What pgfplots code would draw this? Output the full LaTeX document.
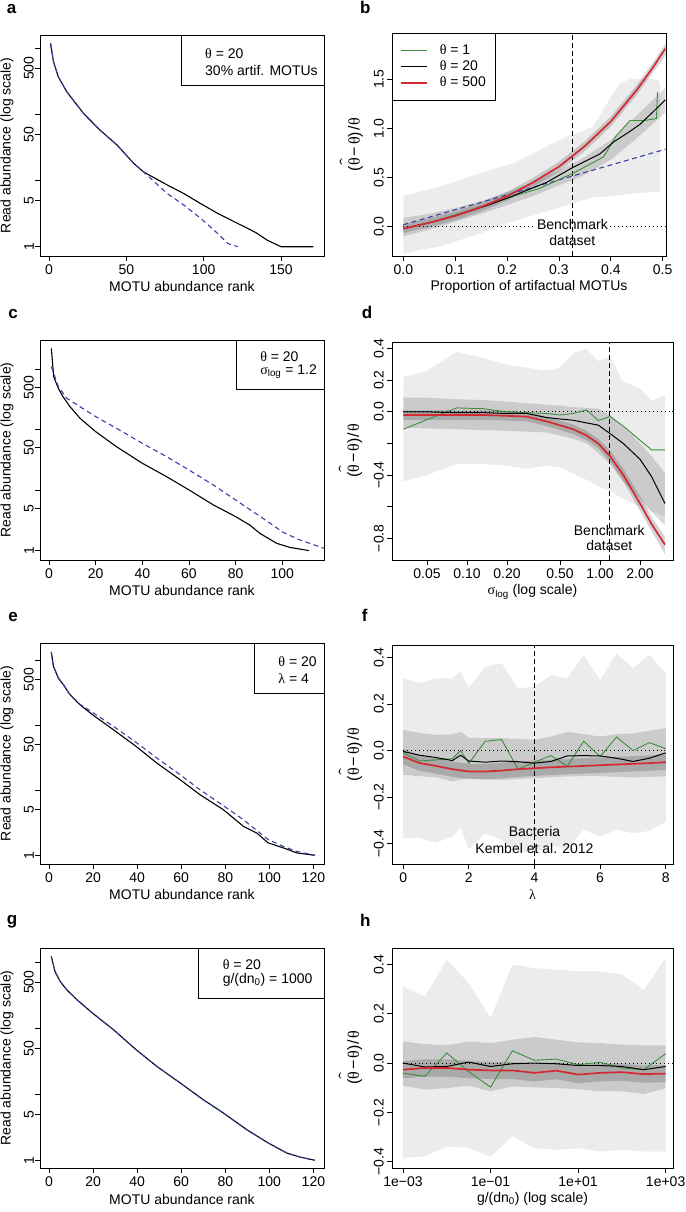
\documentclass[border=0pt]{standalone}
\usepackage{fontspec}
\usepackage{graphicx}
\setmainfont{Liberation Sans}
\newfontfamily\symf{Liberation Serif}
\usepackage{pgfplots}
\pgfplotsset{compat=1.18}
\definecolor{cgreen}{RGB}{60,140,60}
\definecolor{cred}{RGB}{214,40,48}
\definecolor{cblue}{RGB}{55,65,165}
\newcommand{\thet}{{\symf θ}}
\newcommand{\thethat}{{\symf\ooalign{θ\cr\hidewidth\raisebox{0.62em}{\scalebox{1.3}[0.9]{\char"02C6}}\hidewidth\cr}}}
\newcommand{\fs}{\fontsize{14}{16}\selectfont}
\newcommand{\ylab}{{\fontsize{16}{18}\selectfont(\thethat\hspace{2pt}−\hspace{2pt}\thet)\hspace{1pt}/\hspace{1pt}\thet}}
\pgfplotsset{
  rstyle/.style={
    scale only axis, axis on top,
    axis line style={line width=0.8pt},
    tick align=outside, tick pos=left,
    major tick length=5pt,
    every tick/.style={black, line width=0.8pt},
    font=\fs,
    ticklabel style={font=\fs},
    xticklabel style={anchor=north, inner sep=0pt},
    yticklabel style={rotate=90, anchor=south, inner sep=0pt},
    xticklabel shift=4pt,
    yticklabel shift=1pt,
    label style={font=\fs},
    xlabel style={at={(axis description cs:0.5,0)}, anchor=center, yshift=-31pt},
  },
  myrank/.style={rstyle, ytick={1,5,10,50,100,500,1000}, yticklabels={1,5,,50,,500,},
     ylabel={Read abundance (log scale)}, xlabel={MOTU abundance rank},
     ylabel style={at={(axis description cs:-0.116,0.5)}, anchor=center}},
  mybias/.style={rstyle, ylabel={\ylab}, ylabel style={at={(axis description cs:-0.133,0.5)}, anchor=center}, yticklabel shift=3pt},
  lband/.style={draw=none, fill=black, fill opacity=0.075, forget plot},
  mband/.style={draw=none, fill=black, fill opacity=0.14, forget plot},
  rband/.style={draw=none, fill=black, fill opacity=0.17, forget plot},
  gline/.style={cgreen, line width=0.9pt},
  kline/.style={black, line width=1pt},
  rline/.style={cred, line width=1.7pt},
  bdash/.style={cblue, line width=1.1pt, dash pattern=on 5pt off 3.5pt, forget plot},
  curve/.style={black, line width=1.1pt, forget plot},
  zdot/.style={black, line width=0.9pt, dash pattern=on 0.9pt off 3pt, forget plot},
  vdash/.style={black, line width=1pt, dash pattern=on 5pt off 3pt, forget plot},
}
\begin{document}
\begin{tikzpicture}
\useasboundingbox (0pt,0pt) rectangle (685pt,1212pt);
% ---------------- a
\begin{axis}[ymode=log, myrank, at={(40pt,956pt)}, anchor=south west, width=284pt, height=221pt,
  xmin=-5.8, xmax=177.8, ymin=0.724, ymax=1596, xtick={0,50,100,150}, xticklabels={0,50,100,150}]
\addplot[curve] coordinates {(1,1195) (3,620) (6,373) (11.5,221) (22.3,104) (33,58) (44,34.6) (54.7,18.3) (61,13.6) (76.4,8.6) (87,6.4) (98,4.5) (109,3.2) (119.7,2.39) (130.5,1.79) (134,1.62) (141,1.26) (150,1.0) (171,1.0)};
\addplot[bdash] coordinates {(1,1195) (3,620) (6,373) (11.5,221) (22.3,104) (33,58) (44,34.6) (54.7,18.3) (61,13.6) (76.4,6.4) (87,4.3) (98,2.7) (109,1.59) (115.6,1.12) (122,1.0)};
\draw[line width=0.8pt, fill=white] (rel axis cs:0.499,0.774) rectangle (rel axis cs:1,1);
\node[anchor=west, inner sep=0pt] at (rel axis cs:0.581,0.917) {\thet{} = 20};
\node[anchor=west, inner sep=0pt] at (rel axis cs:0.581,0.838) {30\% artif. MOTUs};
\end{axis}
% ---------------- b
\begin{axis}[mybias, at={(392pt,956pt)}, anchor=south west, width=274pt, height=223pt,
  xmin=-0.0218, xmax=0.5064, ymin=-0.298, ymax=1.97,
  xtick={0,0.1,0.2,0.3,0.4,0.5}, xticklabels={0.0,0.1,0.2,0.3,0.4,0.5},
  ytick={0,0.5,1,1.5}, yticklabels={0.0,0.5,1.0,1.5},
  xlabel={Proportion of artifactual MOTUs},
  legend style={at={(0,1)}, anchor=north west, draw=black, line width=0.8pt, fill=white, font=\fs,
     inner xsep=8pt, inner ysep=10pt, row sep=1pt, column sep=9.7pt,
     nodes={inner xsep=2pt, inner ysep=1pt, text height=10pt, text depth=3pt}, cells={anchor=west}},
  legend image code/.code={\draw[#1] (0pt,0pt) -- (26pt,0pt);}]
\addplot[lband] coordinates {(0,0.313) (0.071,0.408) (0.148,0.544) (0.212,0.646) (0.238,0.714) (0.276,0.816) (0.315,0.918) (0.328,0.935) (0.366,1.02) (0.386,1.19) (0.405,1.36) (0.418,1.46) (0.437,1.50) (0.488,1.50) (0.495,1.46)
  (0.495,0.36) (0.45,0.34) (0.40,0.31) (0.366,0.30) (0.328,0.238) (0.263,0.136) (0.2,0.034) (0.148,-0.07) (0.071,-0.2) (0,-0.27)};
\addplot[mband] coordinates {(0,0.09) (0.05,0.13) (0.1,0.19) (0.15,0.26) (0.2,0.35) (0.25,0.45) (0.3,0.57) (0.33,0.65) (0.35,0.71) (0.4,0.88) (0.45,1.13) (0.505,1.41)
  (0.505,1.16) (0.45,0.90) (0.4,0.68) (0.35,0.53) (0.33,0.48) (0.3,0.42) (0.25,0.31) (0.2,0.22) (0.15,0.13) (0.1,0.05) (0.05,-0.03) (0,-0.1)};
\addplot[rband] coordinates {(0,0.025) (0.05,0.085) (0.1,0.155) (0.15,0.245) (0.2,0.355) (0.25,0.495) (0.3,0.66) (0.35,0.87) (0.4,1.12) (0.45,1.44) (0.48,1.66) (0.507,1.87)
  (0.507,1.75) (0.48,1.56) (0.45,1.34) (0.4,1.02) (0.35,0.77) (0.3,0.56) (0.25,0.405) (0.2,0.265) (0.15,0.155) (0.1,0.065) (0.05,-0.005) (0,-0.065)};
\addplot[zdot] coordinates {(0,0) (0.51,0)};
\node[fill=white, inner sep=1pt, align=center, font=\fs] at (axis cs:0.326,-0.055) {Benchmark\\dataset};
\addplot[vdash] coordinates {(0.326,-0.298) (0.326,1.97)};
\addplot[bdash] coordinates {(0,0.02) (0.507,0.79)};
\addplot[gline] coordinates {(0,-0.02) (0.05,0.04) (0.1,0.12) (0.164,0.23) (0.2,0.29) (0.263,0.39) (0.326,0.54) (0.386,0.71) (0.41,0.92) (0.437,1.08) (0.465,1.08) (0.488,1.10) (0.49,1.37)};
\addlegendentry{\thet{} = 1}
\addplot[kline] coordinates {(0,-0.02) (0.05,0.04) (0.1,0.11) (0.164,0.22) (0.2,0.29) (0.276,0.45) (0.326,0.60) (0.379,0.74) (0.405,0.86) (0.437,0.97) (0.456,1.04) (0.482,1.17) (0.505,1.29)};
\addlegendentry{\thet{} = 20}
\addplot[rline] coordinates {(0,-0.02) (0.05,0.04) (0.1,0.11) (0.15,0.20) (0.2,0.31) (0.25,0.45) (0.3,0.61) (0.35,0.82) (0.4,1.07) (0.45,1.39) (0.48,1.61) (0.505,1.81)};
\addlegendentry{\thet{} = 500}
\end{axis}
% ---------------- c
\begin{axis}[ymode=log, myrank, at={(40pt,652pt)}, anchor=south west, width=284pt, height=220pt,
  xmin=-3.86, xmax=117.9, ymin=0.70, ymax=3034, xtick={0,20,40,60,80,100}, xticklabels={0,20,40,60,80,100}]
\addplot[curve] coordinates {(1,2210) (2,751) (4,482) (6,351) (9,240) (13.3,154) (20,92.7) (29,52) (40,27.8) (50.4,16.7) (60,10.1) (70.4,5.7) (80,3.65) (86,2.66) (90.4,1.93) (97.6,1.32) (103.3,1.13) (111.5,1.0)};
\addplot[bdash] coordinates {(1,1100) (4,514) (7.6,330) (20,164) (29,105) (40,59.4) (50.4,35.8) (60,21.5) (70.4,12.2) (80,6.88) (85,5.1) (90.4,3.7) (95,2.8) (100.4,2.0) (107.6,1.5) (117.9,1.09)};
\draw[line width=0.8pt, fill=white] (rel axis cs:0.690,0.777) rectangle (rel axis cs:1,1);
\node[anchor=west, inner sep=0pt] at (rel axis cs:0.775,0.924) {\thet{} = 20};
\node[anchor=west, inner sep=0pt] at (rel axis cs:0.775,0.856) {{\symf σ}\textsubscript{log} = 1.2};
\end{axis}
% ---------------- d
\begin{axis}[xmode=log, mybias, at={(392pt,652pt)}, anchor=south west, width=281pt, height=218pt,
  xmin=0.0273, xmax=3.54, ymin=-0.937, ymax=0.442,
  xtick={0.05,0.1,0.2,0.5,1,2}, xticklabels={0.05,0.10,0.20,0.50,1.00,2.00},
  ytick={-0.8,-0.6,-0.4,-0.2,0,0.2,0.4}, yticklabels={−0.8,,−0.4,,0.0,0.2,0.4},
  xlabel={{\symf σ}\textsubscript{log} (log scale)}, xlabel style={yshift=-1pt}]
\addplot[lband] coordinates {(0.0332,0.22) (0.0497,0.26) (0.0836,0.38) (0.1327,0.34) (0.1988,0.30) (0.281,0.28) (0.397,0.26) (0.5,0.28) (0.63,0.37) (0.794,0.40) (0.971,0.32) (1.189,0.35) (1.497,0.19) (2.0,0.15) (2.445,0.07) (3.08,0.105)
  (3.08,-0.66) (2.445,-0.63) (2.0,-0.60) (1.497,-0.55) (1.189,-0.50) (0.971,-0.47) (0.794,-0.43) (0.63,-0.39) (0.5,-0.35) (0.397,-0.34) (0.281,-0.36) (0.1988,-0.34) (0.1327,-0.33) (0.0836,-0.33) (0.0497,-0.40) (0.0332,-0.44)};
\addplot[mband] coordinates {(0.0332,0.09) (0.0497,0.09) (0.0836,0.08) (0.1327,0.075) (0.1988,0.065) (0.281,0.055) (0.397,0.045) (0.5,0.04) (0.63,0.03) (0.794,0.025) (0.971,0.02) (1.189,-0.02) (1.497,-0.09) (2.0,-0.2) (2.445,-0.28) (3.08,-0.39)
  (3.08,-0.72) (2.445,-0.63) (2.0,-0.55) (1.497,-0.44) (1.189,-0.33) (0.971,-0.26) (0.794,-0.2) (0.63,-0.17) (0.5,-0.15) (0.397,-0.13) (0.281,-0.125) (0.1988,-0.12) (0.1327,-0.115) (0.0836,-0.11) (0.0497,-0.105) (0.0332,-0.10)};
\addplot[rband] coordinates {(0.0332,0.01) (0.0497,0.01) (0.0836,0.01) (0.1327,0.01) (0.1988,0.005) (0.281,0) (0.397,-0.03) (0.5,-0.055) (0.63,-0.08) (0.794,-0.12) (0.971,-0.17) (1.189,-0.245) (1.497,-0.36) (2.0,-0.535) (2.445,-0.665) (3.08,-0.79)
  (3.08,-0.9) (2.445,-0.755) (2.0,-0.625) (1.497,-0.44) (1.189,-0.315) (0.971,-0.23) (0.794,-0.18) (0.63,-0.14) (0.5,-0.115) (0.397,-0.09) (0.281,-0.06) (0.1988,-0.055) (0.1327,-0.05) (0.0836,-0.05) (0.0497,-0.05) (0.0332,-0.05)};
\addplot[zdot] coordinates {(0.0332,0) (3.54,0)};
\node[fill=white, inner sep=1pt, align=center, font=\fontsize{14}{15}\selectfont] at (axis cs:1.175,-0.795) {Benchmark\\dataset};
\addplot[vdash] coordinates {(1.175,-0.937) (1.175,0.442)};
\addplot[gline] coordinates {(0.0332,-0.11) (0.0497,-0.05) (0.0836,0.025) (0.1327,0.02) (0.1988,0.0) (0.281,-0.005) (0.397,-0.01) (0.5,-0.02) (0.63,-0.01) (0.794,0.012) (0.971,-0.055) (1.189,-0.03) (1.497,-0.09) (2.0,-0.18) (2.445,-0.24) (3.08,-0.24)};
\addplot[kline] coordinates {(0.0332,0) (0.0497,0) (0.0836,-0.005) (0.1327,-0.005) (0.1988,-0.01) (0.281,-0.01) (0.397,-0.036) (0.5,-0.045) (0.63,-0.053) (0.794,-0.07) (0.971,-0.084) (1.189,-0.137) (1.497,-0.2) (2.0,-0.3) (2.445,-0.41) (3.08,-0.58)};
\addplot[rline] coordinates {(0.0332,-0.02) (0.0497,-0.02) (0.0836,-0.02) (0.1327,-0.02) (0.1988,-0.025) (0.281,-0.03) (0.397,-0.06) (0.5,-0.085) (0.63,-0.11) (0.794,-0.15) (0.971,-0.2) (1.189,-0.28) (1.497,-0.40) (2.0,-0.58) (2.445,-0.71) (3.08,-0.84)};
\end{axis}
% ---------------- e
\begin{axis}[ymode=log, myrank, at={(40pt,348pt)}, anchor=south west, width=284pt, height=221pt,
  xmin=-4.1, xmax=124.8, ymin=0.736, ymax=1827, xtick={0,20,40,60,80,100,120}, xticklabels={0,20,40,60,80,100,120}]
\addplot[curve] coordinates {(1,1328) (2,800) (4.2,530) (6.5,419) (9.5,294) (14,206) (19.7,145) (29.2,85) (39.5,47.2) (48.9,26.2) (59.5,14.5) (68.5,8.55) (79.1,5.03) (88.2,2.79) (94.3,2.2) (99.5,1.55) (106.4,1.3) (112.4,1.09) (120.7,1)};
\addplot[bdash] coordinates {(1,1328) (2,800) (4.2,530) (6.5,419) (9.5,294) (14,210) (19.7,157) (29.2,96) (39.5,54.4) (48.9,31.3) (59.5,17.3) (68.5,10.2) (79.1,5.8) (88.2,3.53) (99.5,1.74) (106.4,1.37) (112.4,1.15) (120.7,1)};
\draw[line width=0.8pt, fill=white] (rel axis cs:0.754,0.774) rectangle (rel axis cs:1,1);
\node[anchor=west, inner sep=0pt] at (rel axis cs:0.839,0.915) {\thet{} = 20};
\node[anchor=west, inner sep=0pt] at (rel axis cs:0.839,0.840) {{\symf λ} = 4};
\end{axis}
% ---------------- f
\begin{axis}[mybias, at={(392pt,348pt)}, anchor=south west, width=281pt, height=219pt,
  xmin=-0.34, xmax=8.22, ymin=-0.487, ymax=0.453,
  xtick={0,2,4,6,8}, xticklabels={0,2,4,6,8},
  ytick={-0.4,-0.2,0,0.2,0.4}, yticklabels={−0.4,−0.2,0.0,0.2,0.4},
  xlabel={{\symf λ}}]
\addplot[lband] coordinates {(0,0.31) (0.5,0.29) (1,0.31) (1.5,0.31) (1.75,0.34) (2,0.27) (2.5,0.36) (3,0.375) (3.5,0.267) (4,0.274) (4.5,0.324) (5,0.31) (5.5,0.41) (6,0.303) (6.5,0.417) (7,0.353) (7.5,0.41) (8,0.33)
  (8,-0.305) (7.5,-0.345) (7,-0.355) (6.5,-0.34) (6,-0.37) (5.5,-0.34) (5,-0.42) (4.5,-0.41) (4,-0.44) (3.5,-0.43) (3,-0.383) (2.5,-0.355) (2,-0.425) (1.75,-0.33) (1.5,-0.37) (1,-0.395) (0.5,-0.375) (0,-0.375)};
\addplot[mband] coordinates {(0,0.089) (0.5,0.075) (1,0.067) (1.5,0.07) (1.75,0.08) (2,0.055) (2.5,0.053) (3,0.053) (3.5,0.05) (4,0.046) (4.5,0.06) (5,0.08) (5.5,0.07) (6,0.06) (6.5,0.07) (7,0.074) (7.5,0.085) (8,0.096)
  (8,-0.111) (7.5,-0.113) (7,-0.115) (6.5,-0.113) (6,-0.11) (5.5,-0.11) (5,-0.111) (4.5,-0.115) (4,-0.119) (3.5,-0.122) (3,-0.126) (2.5,-0.125) (2,-0.119) (1.75,-0.125) (1.5,-0.133) (1,-0.115) (0.5,-0.11) (0,-0.104)};
\addplot[rband] coordinates {(0,0.007) (0.5,-0.021) (1,-0.033) (1.5,-0.047) (1.75,-0.052) (2,-0.057) (2.5,-0.057) (3,-0.053) (3.5,-0.047) (4,-0.043) (4.5,-0.039) (5,-0.036) (5.5,-0.033) (6,-0.03) (6.5,-0.027) (7,-0.024) (7.5,-0.021) (8,-0.017)
  (8,-0.083) (7.5,-0.087) (7,-0.09) (6.5,-0.093) (6,-0.096) (5.5,-0.099) (5,-0.102) (4.5,-0.105) (4,-0.109) (3.5,-0.113) (3,-0.119) (2.5,-0.123) (2,-0.123) (1.75,-0.118) (1.5,-0.113) (1,-0.099) (0.5,-0.087) (0,-0.059)};
\addplot[zdot] coordinates {(0,0) (8,0)};
\node[inner sep=1pt, align=center, font=\fontsize{14}{16.8}\selectfont] at (axis cs:4,-0.383) {Bacteria\\Kembel et al. 2012};
\addplot[vdash] coordinates {(4,-0.487) (4,0.453)};
\addplot[gline] coordinates {(0,-0.01) (0.5,-0.045) (1,-0.04) (1.5,-0.035) (1.75,0.0) (2,-0.055) (2.5,0.04) (3,0.047) (3.5,-0.08) (4,-0.05) (4.5,-0.022) (5,-0.067) (5.5,0.04) (6,-0.026) (6.5,0.058) (7,0.0) (7.5,0.034) (8,0.008)};
\addplot[kline] coordinates {(0,-0.004) (0.5,-0.02) (1,-0.03) (1.5,-0.043) (1.75,-0.02) (2,-0.045) (2.5,-0.05) (3,-0.045) (3.5,-0.048) (4,-0.054) (4.5,-0.047) (5,-0.023) (5.5,-0.022) (6,-0.023) (6.5,-0.033) (7,-0.047) (7.5,-0.033) (8,-0.01)};
\addplot[rline] coordinates {(0,-0.026) (0.5,-0.054) (1,-0.066) (1.5,-0.08) (1.75,-0.085) (2,-0.09) (2.5,-0.09) (3,-0.086) (3.5,-0.08) (4,-0.076) (4.5,-0.072) (5,-0.069) (5.5,-0.066) (6,-0.063) (6.5,-0.06) (7,-0.057) (7.5,-0.054) (8,-0.05)};
\end{axis}
% ---------------- g
\begin{axis}[ymode=log, myrank, at={(40pt,44pt)}, anchor=south west, width=284pt, height=220pt,
  xmin=-4.1, xmax=124.8, ymin=0.765, ymax=1655, xtick={0,20,40,60,80,100,120}, xticklabels={0,20,40,60,80,100,120}]
\addplot[curve] coordinates {(1,1238) (2.7,733) (5,517) (8,386) (12.6,273) (19.7,171) (29.2,95.7) (39.5,47.6) (48.9,26.6) (59.5,14.9) (70,8.3) (79.1,5.22) (89.7,2.92) (99.5,1.83) (107.9,1.29) (113.9,1.12) (120.7,1)};
\addplot[bdash] coordinates {(1,1238) (2.7,733) (5,517) (8,386) (12.6,273) (19.7,171) (29.2,95.7) (39.5,47.6) (48.9,26.6) (59.5,14.9) (70,8.3) (79.1,5.22) (89.7,2.92) (99.5,1.83) (107.9,1.29) (113.9,1.12) (120.7,1)};
\draw[line width=0.8pt, fill=white] (rel axis cs:0.556,0.773) rectangle (rel axis cs:1,1);
\node[anchor=west, inner sep=0pt] at (rel axis cs:0.643,0.923) {\thet{} = 20};
\node[anchor=west, inner sep=0pt] at (rel axis cs:0.643,0.855) {g/(dn\textsubscript{0}) = 1000};
\end{axis}
% ---------------- h
\begin{axis}[xmode=log, mybias, at={(392pt,44pt)}, anchor=south west, width=281pt, height=220pt,
  xmin=0.000561, xmax=1472, ymin=-0.427, ymax=0.468,
  xtick={0.001,0.1,10,1000}, xticklabels={1e−03,1e−01,1e+01,1e+03},
  ytick={-0.4,-0.2,0,0.2,0.4}, yticklabels={−0.4,−0.2,0.0,0.2,0.4},
  xlabel={g/(dn\textsubscript{0}) (log scale)}]
\addplot[lband] coordinates {(0.001,0.312) (0.003162,0.271) (0.01,0.42) (0.03162,0.325) (0.1,0.183) (0.3162,0.40) (1,0.386) (3.162,0.38) (10,0.373) (31.62,0.373) (100,0.36) (316.2,0.298) (1000,0.427)
  (1000,-0.36) (316.2,-0.36) (100,-0.353) (31.62,-0.36) (10,-0.346) (3.162,-0.353) (1,-0.346) (0.3162,-0.298) (0.1,-0.38) (0.03162,-0.346) (0.01,-0.339) (0.003162,-0.38) (0.001,-0.386)};
\addplot[mband] coordinates {(0.001,0.088) (0.003162,0.077) (0.01,0.072) (0.03162,0.088) (0.1,0.081) (0.3162,0.095) (1,0.106) (3.162,0.095) (10,0.084) (31.62,0.081) (100,0.075) (316.2,0.072) (1000,0.072)
  (1000,-0.102) (316.2,-0.126) (100,-0.115) (31.62,-0.115) (10,-0.106) (3.162,-0.102) (1,-0.099) (0.3162,-0.095) (0.1,-0.115) (0.03162,-0.092) (0.01,-0.102) (0.003162,-0.108) (0.001,-0.092)};
\addplot[rband] coordinates {(0.001,0.008) (0.003162,0.015) (0.01,0.015) (0.03162,0.008) (0.1,0.005) (0.3162,0.005) (1,-0.005) (3.162,0.004) (10,-0.012) (31.62,-0.005) (100,-0.002) (316.2,-0.01) (1000,-0.008)
  (1000,-0.078) (316.2,-0.08) (100,-0.072) (31.62,-0.075) (10,-0.082) (3.162,-0.066) (1,-0.075) (0.3162,-0.065) (0.1,-0.065) (0.03162,-0.062) (0.01,-0.055) (0.003162,-0.055) (0.001,-0.062)};
\addplot[zdot] coordinates {(0.001,0) (1472,0)};
\addplot[gline] coordinates {(0.001,-0.041) (0.003162,-0.054) (0.01,0.041) (0.03162,-0.035) (0.1,-0.098) (0.3162,0.05) (1,0.011) (3.162,0.016) (10,-0.007) (31.62,0.003) (100,-0.02) (316.2,-0.027) (1000,0.038)};
\addplot[kline] coordinates {(0.001,0) (0.003162,-0.016) (0.01,-0.014) (0.03162,0.004) (0.1,-0.014) (0.3162,-0.003) (1,0) (3.162,-0.003) (10,-0.01) (31.62,-0.01) (100,-0.014) (316.2,-0.027) (1000,-0.014)};
\addplot[rline] coordinates {(0.001,-0.027) (0.003162,-0.02) (0.01,-0.02) (0.03162,-0.027) (0.1,-0.03) (0.3162,-0.03) (1,-0.04) (3.162,-0.031) (10,-0.047) (31.62,-0.04) (100,-0.037) (316.2,-0.045) (1000,-0.043)};
\end{axis}
% panel letters
\begin{scope}[every node/.style={anchor=base west, inner sep=0pt, font=\fontsize{17}{17}\selectfont\bfseries}]
\node at (6.7pt,1198.7pt) {a};
\node at (360pt,1198.7pt) {b};
\node at (8.3pt,893.7pt) {c};
\node at (361.7pt,893.7pt) {d};
\node at (8.3pt,590.3pt) {e};
\node at (361.7pt,590.3pt) {f};
\node at (6.7pt,287pt) {g};
\node at (360pt,285.3pt) {h};
\end{scope}
\end{tikzpicture}
\end{document}
